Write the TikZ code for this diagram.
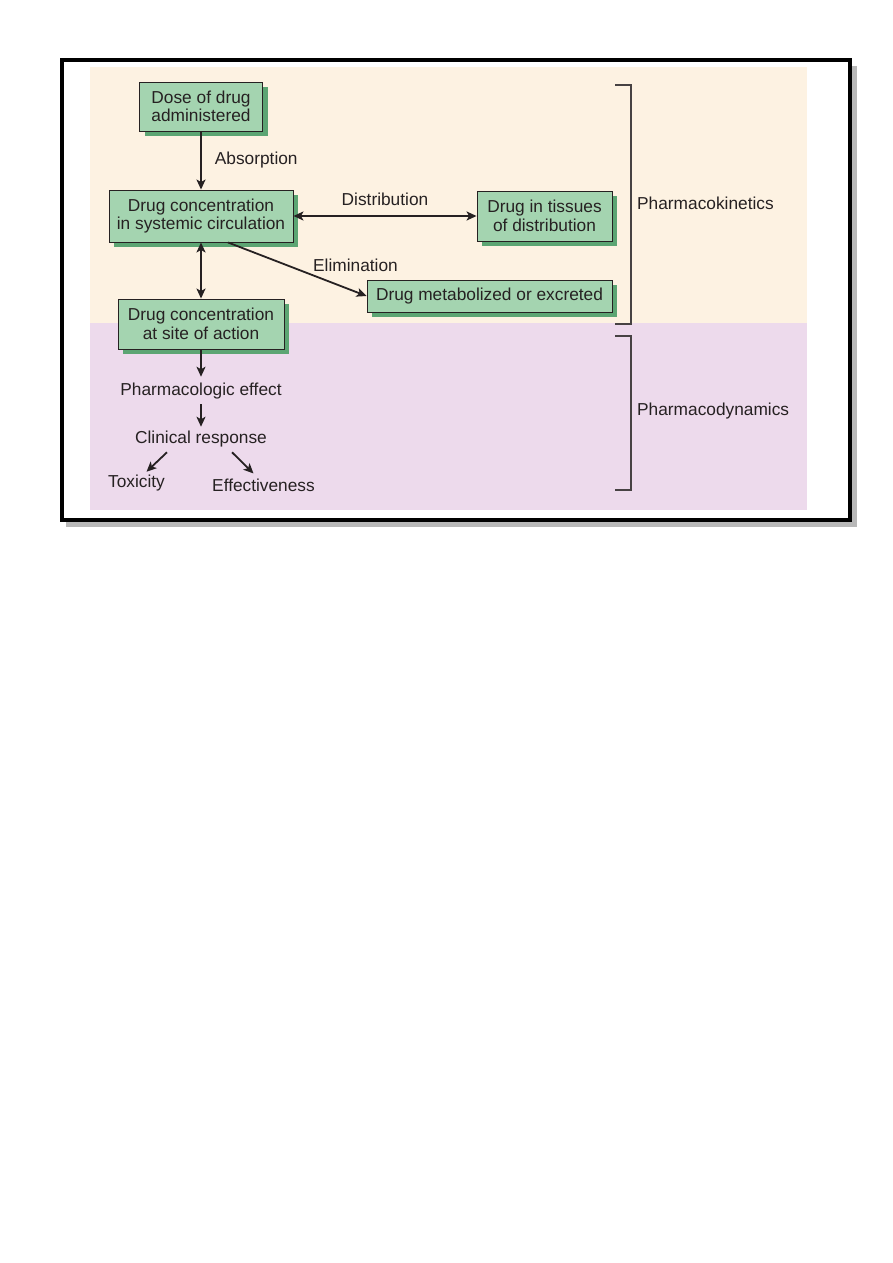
\documentclass[tikz,border=0pt]{standalone}
\usepackage{fontspec}
\setmainfont{Liberation Sans}
\usepackage{xcolor}
\usetikzlibrary{arrows.meta,shadows,positioning}

\definecolor{kinetic bg}{RGB}{253,242,226}
\definecolor{dynamic bg}{RGB}{237,218,236}
\definecolor{stage green}{RGB}{164,212,176}
\definecolor{stage shadow}{RGB}{92,165,115}
\definecolor{ink}{RGB}{38,33,34}

\begin{document}
\begin{tikzpicture}[x=1pt,y=-1pt,
    every node/.style={text=ink,font=\fontsize{17.3}{18.5}\selectfont,inner sep=0pt},
    stage/.style={draw=ink,line width=0.9pt,fill=stage green,align=center,
      drop shadow={shadow xshift=5pt,shadow yshift=-5pt,fill=stage shadow,opacity=1}},
    flow/.style={ink,line width=1.8pt,-{Stealth[length=10pt,width=9pt,inset=2.5pt]}},
    twoway/.style={flow,{Stealth[length=10pt,width=9pt,inset=2.5pt]}-{Stealth[length=10pt,width=9pt,inset=2.5pt]}},
    bracket/.style={ink!85,line width=1.1pt}]

  \useasboundingbox (0,0) rectangle (893,1263);
  \fill[white] (0,0) rectangle (893,1263);

  % frame and the two bands
  \draw[line width=5pt,black!28] (854.5,66) -- (854.5,524.5) -- (66,524.5);
  \draw[line width=4pt] (61.5,60.3) rectangle (849.7,520);
  \fill[kinetic bg] (90,67) rectangle (807,323);
  \fill[dynamic bg] (90,323) rectangle (807,510);

  % boxes
  \node[stage,minimum width=123,minimum height=49] (dose) at (201,106.5) {Dose of drug\\administered};
  \node[stage,minimum width=184,minimum height=52] (systemic) at (201,216) {Drug concentration\\in systemic circulation};
  \node[stage,minimum width=135,minimum height=50] (tissues) at (544.5,216) {Drug in tissues\\of distribution};
  \node[stage,minimum width=245,minimum height=32] (metabolized) at (489.5,296) {Drug metabolized or excreted};
  \node[stage,minimum width=166,minimum height=50] (site) at (201,324) {Drug concentration\\at site of action};

  % plain steps
  \node (effect) at (201,391) {Pharmacologic effect};
  \node (response) at (201,439) {Clinical response};
  \node (toxicity) at (136.5,483) {Toxicity};
  \node (effectiveness) at (263.5,485) {Effectiveness};

  % connectors
  \draw[flow] (dose.south) -- node[right=13pt] (absorption) {Absorption} (systemic.north);
  \draw[twoway] (systemic.east) -- node[above=9pt] (distribution) {Distribution} (tissues.west);
  \draw[flow] ([xshift=27pt]systemic.south) -- node[pos=0.92,above=19pt] (elimination) {Elimination} (metabolized.west);
  \draw[twoway] (systemic.south) -- (site.north);
  \draw[flow,shorten >=6pt] (site.south) -- (effect.north);
  \draw[flow,shorten <=5pt,shorten >=4pt] (effect.south) -- (response.north);
  \draw[flow] ([shift={(-34,5)}]response.south) -- ([shift={(10,-3)}]toxicity.north);
  \draw[flow] ([shift={(31,5)}]response.south) -- ([shift={(-10,-5)}]effectiveness.north);

  % brackets
  \draw[bracket] (615,85) -- (631,85) -- (631,324) -- (615,324);
  \draw[bracket] (615,336) -- (631,336) -- (631,490) -- (615,490);
  \node[anchor=west] (kinetics) at (637,203) {Pharmacokinetics};
  \node[anchor=west] (dynamics) at (637,411) {Pharmacodynamics};
\end{tikzpicture}
\end{document}
